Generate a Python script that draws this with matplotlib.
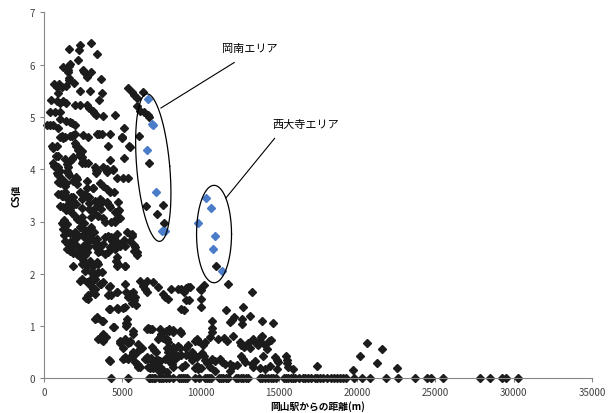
import numpy as np
import matplotlib
matplotlib.use("Agg")
from matplotlib import pyplot as plt

plt.rcParams['font.family'] = ['Noto Sans CJK JP', 'DejaVu Sans']

# distance from Okayama station (m), CS value
band_high = [
    (3000, 6.41), (2300, 6.38), (1600, 6.30), (2250, 6.27), (3390, 6.20), (2150, 6.09),
    (1650, 6.02), (1600, 5.98), (1200, 5.95), (1560, 5.90), (1560, 5.85), (2490, 5.89),
    (2570, 5.85), (2990, 5.85), (1600, 5.75), (1600, 5.71), (2770, 5.76), (3640, 5.73),
    (1940, 5.64), (640, 5.63), (810, 5.58), (980, 5.62), (1170, 5.58), (1400, 5.60),
    (920, 5.45), (2300, 5.50), (2940, 5.50), (3720, 5.45), (450, 5.32), (860, 5.30),
    (1020, 5.26), (1200, 5.31), (1400, 5.27), (3510, 5.32), (1960, 5.23), (2300, 5.23),
    (2720, 5.23), (2900, 5.17), (3110, 5.12), (3210, 5.08), (3290, 5.04), (380, 5.10),
    (700, 5.10), (1020, 5.09), (3770, 5.02), (4520, 5.04), (1020, 4.96), (1430, 4.93),
    (1640, 4.91), (1810, 4.88), (2000, 4.84), (920, 4.78), (5110, 4.78), (3380, 4.67),
    (3530, 4.67), (3700, 4.67), (4230, 4.67), (2510, 4.66), (1000, 4.61), (1200, 4.60),
    (1640, 4.64), (1850, 4.65), (1960, 4.68), (4970, 4.62), (200, 4.84), (400, 4.84),
    (550, 4.85), (1130, 4.64), (1340, 4.61), (1770, 4.64), (2830, 4.61), (4960, 4.60),
    (5380, 5.55), (5600, 5.48), (5750, 5.41), (5920, 5.37), (6340, 5.48), (5920, 5.21),
    (6130, 5.11), (6410, 5.09), (6620, 5.04), (6730, 4.99), (6090, 4.63),
]

band_upper = [
    (500, 4.44), (600, 4.40), (810, 4.45), (4100, 4.44), (2070, 4.44), (2170, 4.36),
    (2280, 4.30), (5430, 4.44), (770, 4.25), (4230, 4.17), (5110, 4.22), (1340, 4.19),
    (1660, 4.16), (1770, 4.19), (1870, 4.23), (2410, 4.23), (2510, 4.16), (2400, 4.12),
    (2620, 4.12), (2830, 4.12), (600, 4.12), (650, 4.07), (830, 4.03), (910, 4.26),
    (1980, 4.51), (2190, 4.42), (2410, 4.35), (2300, 4.26), (4960, 4.61), (5490, 4.43),
    (6730, 4.12), (4430, 4.00), (910, 4.04), (1020, 3.97), (3260, 4.04), (3370, 3.97),
    (3790, 4.04), (4000, 4.00), (1450, 4.10), (1550, 4.05),
    (3350, 3.99), (3350, 3.93), (4000, 3.94), (4430, 3.99), (1500, 3.97), (1530, 3.92),
    (1600, 3.88), (810, 3.92), (2070, 3.86), (2130, 3.81), (4640, 3.84), (5030, 3.84),
    (5350, 3.84), (2750, 3.77), (900, 3.76), (1050, 3.74), (1200, 3.77), (1400, 3.73),
    (3580, 3.74), (3790, 3.68), (4000, 3.62), (4220, 3.56), (4500, 3.57), (3120, 3.65),
    (2720, 3.65), (3150, 3.65), (910, 3.88), (1130, 3.81), (1230, 3.75), (1340, 3.68),
    (1870, 3.78), (2090, 3.72), (910, 3.53), (1130, 3.49), (1340, 3.56), (1450, 3.46),
    (1660, 3.43), (1870, 3.46), (2300, 3.56), (2410, 3.52), (2720, 3.46), (2620, 3.52),
    (3260, 3.40), (3690, 3.40), (3580, 3.33), (4000, 3.37), (4220, 3.27), (4750, 3.37),
    (1090, 3.52), (1230, 3.49), (1390, 3.46), (1550, 3.43), (1720, 3.46), (1830, 3.40),
    (1600, 3.35), (1800, 3.30), (2020, 3.33), (2430, 3.43), (2870, 3.46), (3570, 3.43),
    (4050, 3.36), (4170, 3.31), (1410, 3.22), (1660, 3.22), (1770, 3.16), (2430, 3.25),
    (2870, 3.24), (3320, 3.28), (3620, 3.24), (4660, 3.18), (4810, 3.22), (1140, 2.98),
    (1280, 3.03), (1980, 3.10), (2130, 3.04), (2350, 3.00), (2450, 3.08), (2560, 2.98),
    (2980, 3.08), (3450, 3.11), (3770, 3.07), (3880, 3.00), (4300, 3.00), (4520, 3.00),
    (4540, 3.18), (4680, 3.18), (4540, 3.02), (4860, 3.07), (4750, 3.20), (1020, 3.30),
    (1240, 3.28), (1450, 3.30), (6490, 3.29), (7620, 3.32), (7200, 3.14), (7680, 2.97),
    (1240, 2.96), (1450, 2.95), (1350, 2.92), (2900, 3.35), (3100, 3.18),
]

band_mid = [
    (1550, 2.80), (1660, 2.78), (1870, 2.77), (1980, 2.80), (2200, 2.75), (2470, 2.74),
    (1660, 2.60), (1870, 2.64), (2940, 2.72), (3380, 2.66), (3880, 2.70), (4100, 2.73),
    (4490, 2.68), (4650, 2.60), (4880, 2.53), (5590, 2.72), (1450, 2.47), (1660, 2.44),
    (1870, 2.40), (2130, 2.37), (2510, 2.53), (2720, 2.50), (3270, 2.53), (3420, 2.48),
    (3580, 2.43), (4330, 2.50), (4530, 2.47), (5750, 2.44), (5920, 2.36), (2180, 2.36),
    (2350, 2.33), (2510, 2.27), (2940, 2.25), (3050, 2.18), (1870, 2.15), (3450, 2.19),
    (4620, 2.25), (4680, 2.15), (5150, 2.14), (2620, 2.05), (2980, 2.03), (3320, 2.00),
    (1340, 2.63), (1550, 2.57), (1770, 2.51), (1870, 2.60), (2090, 2.54), (2190, 2.44),
    (2300, 2.41), (2410, 2.47), (2510, 2.38), (2620, 2.35), (2720, 2.41), (2830, 2.54),
    (3370, 2.57), (3580, 2.54), (3790, 2.57), (3470, 2.41), (3900, 2.38), (4110, 2.41),
    (4220, 2.51), (4320, 2.63), (4470, 2.59), (5070, 2.60), (5170, 2.54), (5810, 2.51),
    (5920, 2.41), (4680, 2.32), (4750, 2.19), (5170, 2.15), (2410, 2.19), (2620, 2.19),
    (2720, 2.15), (3150, 2.15), (3370, 2.22), (3470, 2.03), (3050, 2.06), (3260, 2.00),
    (3690, 2.03), (4640, 2.76), (5280, 2.79), (5490, 2.63), (5600, 2.76), (4300, 2.70),
    (4500, 2.62), (4750, 2.55), (5110, 2.64), (5740, 2.55), (2300, 2.90), (2500, 2.85),
    (2700, 2.82), (2600, 2.68), (2800, 2.60), (2100, 2.70), (3000, 2.90), (3200, 2.80),
    (3100, 2.65), (1200, 2.85), (1300, 2.75), (10990, 2.15),
]

band_low = [
    (2410, 1.90), (3050, 1.92), (3150, 1.87), (3260, 1.90), (3750, 1.84), (3580, 1.81),
    (3260, 1.71), (3150, 1.65), (3260, 1.61), (2830, 1.52), (4220, 1.77), (4640, 1.65),
    (5170, 1.80), (5240, 1.65), (5490, 1.61), (5710, 1.65), (5810, 1.55), (5770, 1.49),
    (4220, 1.33), (4750, 1.33), (5170, 1.36), (6130, 1.87), (6560, 1.87), (6340, 1.77),
    (6450, 1.71), (6560, 1.65), (3370, 1.17), (3690, 1.10), (3260, 1.14), (5280, 1.14),
    (5320, 1.04), (2300, 1.87), (2750, 1.85), (3010, 1.77), (3100, 1.70), (2810, 1.60),
    (2700, 1.53), (3620, 1.81), (4170, 1.75), (4060, 1.60), (4280, 1.60), (4660, 1.66),
    (5350, 1.55), (5600, 1.45), (5900, 1.40), (6940, 1.85), (7260, 1.75),
    (7620, 1.62), (7700, 1.56), (8130, 1.70), (8560, 1.70), (8770, 1.70), (9090, 1.72),
    (9050, 1.50), (9240, 1.50), (8770, 1.32), (4170, 1.33), (4680, 1.35), (5040, 1.35),
    (7900, 1.52), (8940, 1.66), (9220, 1.75),
    (10010, 1.69), (10220, 1.79), (10010, 1.52), (10010, 1.36), (8940, 1.31), (11770, 1.80),
    (11620, 1.31), (12730, 1.36), (13270, 1.65), (12160, 1.17), (12030, 1.12), (11880, 1.07),
    (12670, 1.14), (12670, 1.04), (13160, 1.19), (10710, 1.10), (13940, 1.10), (14600, 1.06),
    (9330, 1.74), (9960, 1.71), (3750, 1.09), (5240, 1.06), (5240, 1.01), (3370, 1.16),
]

band_bottom = [
    (4500, 0.98), (4430, 0.98), (3580, 0.77), (3700, 0.74), (3930, 0.79), (3800, 0.72),
    (4850, 0.68), (5030, 0.59), (5370, 0.68), (5520, 0.72), (5690, 0.85), (6020, 0.66),
    (6130, 0.56), (6550, 0.95), (6660, 0.97), (6770, 0.95), (6880, 0.94), (7380, 0.80),
    (7490, 0.82), (7600, 0.78), (6900, 0.60), (7020, 0.55), (7150, 0.50), (7780, 0.90),
    (8000, 0.91), (8230, 0.89), (8770, 0.87), (8660, 0.59), (8230, 0.60), (8260, 0.55),
    (7900, 0.50), (8010, 0.43), (9090, 0.59), (9660, 0.72), (4170, 0.35), (5050, 0.37),
    (5200, 0.39), (5390, 0.37), (5590, 0.45), (5700, 0.49), (5920, 0.28), (6030, 0.25),
    (6130, 0.22), (6420, 0.38), (6600, 0.37), (6810, 0.39), (7000, 0.32), (7130, 0.35),
    (7300, 0.36), (7420, 0.33), (7740, 0.38), (7970, 0.33), (8230, 0.34), (6770, 0.19),
    (6990, 0.19), (7300, 0.17), (7620, 0.16), (8560, 0.43), (8770, 0.45), (9100, 0.45),
    (9300, 0.42), (9450, 0.35), (9620, 0.20), (9830, 0.22), (10030, 0.19), (3790, 0.85),
    (3690, 0.79), (3470, 0.75), (5710, 0.91), (4850, 0.72), (5170, 0.75), (5490, 0.69),
    (6240, 0.59), (5710, 0.50), (5920, 0.50), (5710, 0.43), (5170, 0.40), (5600, 0.40),
    (4220, 0.34), (5810, 0.31), (6020, 0.21), (6560, 0.40), (6660, 0.21), (7410, 0.94),
    (7450, 0.85), (7300, 0.75), (7980, 0.94), (8260, 0.93), (8690, 0.91), (7840, 0.75),
    (7940, 0.69), (7840, 0.59), (8050, 0.56), (8370, 0.47), (8480, 0.40), (8580, 0.61),
    (9220, 0.64), (9750, 0.75), (9850, 0.72), (10170, 0.64), (10280, 0.69), (10600, 0.79),
    (11130, 0.75), (11520, 0.77), (11670, 0.72), (12090, 0.82), (12580, 0.64), (13050, 0.68),
    (13160, 0.59), (9430, 0.50), (9600, 0.45), (9750, 0.40), (10070, 0.49), (10200, 0.42),
    (10300, 0.35), (10390, 0.30), (10710, 0.37), (10920, 0.34), (11240, 0.37), (11400, 0.31),
    (11560, 0.28), (11880, 0.28), (12100, 0.24), (12310, 0.25), (12580, 0.43), (12700, 0.37),
    (12840, 0.31), (13270, 0.28), (13370, 0.21), (6770, 0.37), (7000, 0.28), (7410, 0.22),
    (8160, 0.28), (8260, 0.21), (8800, 0.21), (9010, 0.26), (9750, 0.24), (9850, 0.18),
    (10600, 0.21), (7410, 0.15), (7840, 0.12), (11880, 0.15), (10920, 0.15), (10710, 0.96),
    (10750, 0.88), (13370, 0.75), (13480, 0.70), (13580, 0.66), (13690, 0.63), (13840, 0.80),
    (14120, 0.63), (14220, 0.56), (14480, 0.74), (13970, 0.43), (13480, 0.34), (14750, 0.40),
    (14860, 0.36), (14960, 0.32), (15460, 0.42), (15530, 0.36), (15530, 0.30), (15600, 0.21),
    (13800, 0.20), (14100, 0.18), (14430, 0.24), (14860, 0.18), (15920, 0.18), (17420, 0.23),
    (19760, 0.16), (20180, 0.43), (20610, 0.68), (21610, 0.56), (21290, 0.29), (22570, 0.20),
    (14390, 0.72), (13900, 0.82), (13800, 0.72), (12800, 0.60), (12500, 0.70),
]

zero_dist = [
    4310, 5360, 6700, 6800, 6900, 7000, 7120, 7370, 7500, 7630, 7800, 8000, 8250, 8630,
    8750, 8880, 9000, 9130, 9640, 9890, 10270, 10400, 10520, 10640, 11150, 11300, 11450,
    11600, 11770, 12270, 12420, 12570, 12720, 12870, 13030, 13800, 13950, 14100, 14300,
    14500, 14650, 14790, 15300, 15450, 15600, 15750, 15900, 16050, 16290, 16550, 16700,
    16850, 17050, 17300, 17450, 17600, 17800, 18060, 18310, 18500, 18700, 18900, 19100,
    19320, 19820, 20320, 20820, 21830, 22590, 23720, 24470, 24720, 25480, 27870, 28500,
    29250, 29500, 30260,
]

# highlighted areas
okanan_pts = [(6620, 5.34), (6920, 4.86), (6980, 4.84), (6560, 4.37), (7150, 3.56),
              (7520, 2.81), (7730, 2.81)]
saidaiji_pts = [(10340, 3.45), (10660, 3.25), (9860, 2.98), (10900, 2.73),
                (10790, 2.47), (11350, 2.06)]

BLACK = '#1c1c1c'
BLUE = '#4a7cc7'
AXCOL = '#868686'
TXT = '#404040'

fig = plt.figure(figsize=(6.16, 4.14), dpi=100)
ax = fig.add_axes([44 / 616, 1 - 379.4 / 414, 548 / 616, 366.1 / 414])

black_pts = band_high + band_upper + band_mid + band_low + band_bottom
bx = [p[0] for p in black_pts] + zero_dist
by = [p[1] for p in black_pts] + [0.0] * len(zero_dist)
ax.plot(bx, by, linestyle='none', marker='D', ms=4.0, color=BLACK, mec=BLACK, clip_on=False)

for grp in (okanan_pts, saidaiji_pts):
    ax.plot([p[0] for p in grp], [p[1] for p in grp], linestyle='none', marker='D',
            ms=4.0, color=BLUE, mec=BLUE, zorder=3)

ax.set_xlim(0, 35000)
ax.set_ylim(0, 7)
ax.set_xticks(np.arange(0, 35001, 5000))
ax.set_yticks(np.arange(0, 8, 1))
for s in ('top', 'right'):
    ax.spines[s].set_visible(False)
for s in ('left', 'bottom'):
    ax.spines[s].set_color(AXCOL)
    ax.spines[s].set_linewidth(0.8)
ax.tick_params(colors=AXCOL, labelcolor=TXT, labelsize=7, length=3, width=0.8)

ax.set_xlabel('岡山駅からの距離(m)', fontsize=7, fontweight='bold', color='black', labelpad=2)
ax.set_ylabel('CS値', fontsize=7, fontweight='bold', color='black', labelpad=6)

# ellipses drawn in pixel space then mapped to data units
px_x = 35000 / 548
px_y = 7 / 366.1
t = np.linspace(0, 2 * np.pi, 200)


def ellipse(cx, cy, semi_w, semi_h, tilt_deg):
    th = np.radians(tilt_deg)
    u = semi_w * np.cos(t)
    v = semi_h * np.sin(t)
    ur = u * np.cos(th) - v * np.sin(th)
    vr = u * np.sin(th) + v * np.cos(th)
    ax.plot(cx + ur * px_x, cy + vr * px_y, color='black', lw=0.9, zorder=4)


ellipse(6980, 4.03, 16.5, 74, 5)
ellipse(10860, 2.76, 17.5, 48.7, 0)

ax.plot([7470, 12150], [5.17, 6.04], color='black', lw=0.8)
ax.plot([11620, 14730], [3.45, 4.59], color='black', lw=0.8)
ax.text(13160, 6.32, '岡南エリア', fontsize=8, ha='center', va='center', color='black')
ax.text(16730, 4.86, '西大寺エリア', fontsize=8, ha='center', va='center', color='black')

fig.savefig('out.png', dpi=100)
